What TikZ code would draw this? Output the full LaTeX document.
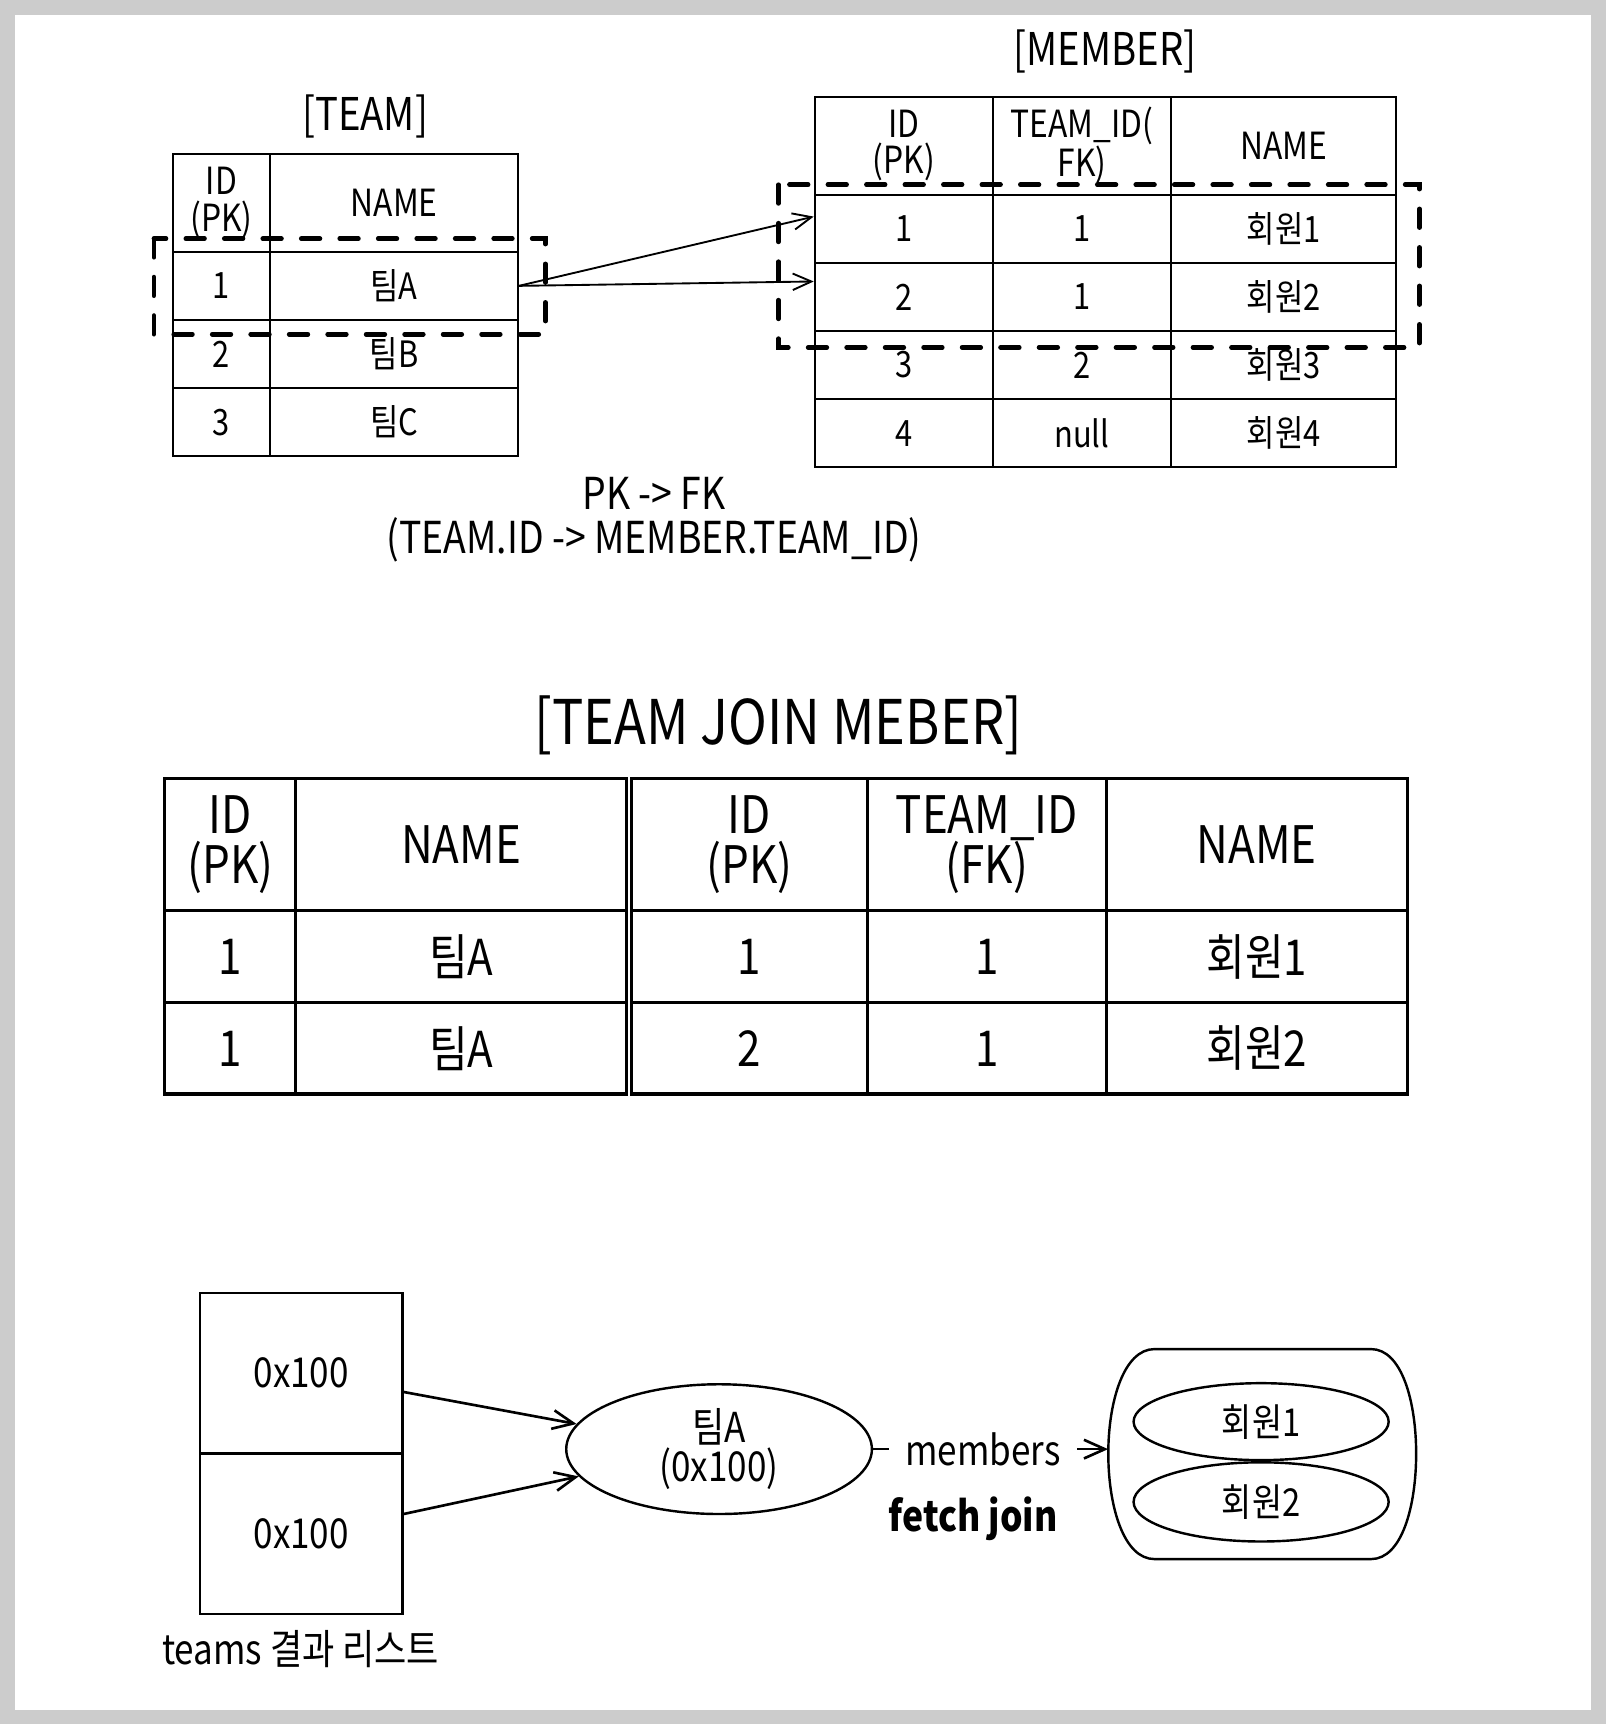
\documentclass[tikz,border=0pt]{standalone}
\usepackage{fontspec}
\setmainfont{Noto Sans CJK KR}[FakeStretch=0.85]
\usetikzlibrary{arrows.meta,shapes.geometric}
\definecolor{bgGray}{HTML}{CCCCCC}
\newcommand\myHead{\fontsize{34}{33}\selectfont}
\newcommand\myRow{\fontsize{33}{34}\selectfont}
\newcommand\myTitle{\fontsize{41}{44}\selectfont}
\newcommand\myNote{\fontsize{40}{40}\selectfont}
\newcommand\myBigTitle{\fontsize{56}{60}\selectfont}
\newcommand\myJoinHead{\fontsize{47}{46}\selectfont}
\newcommand\myJoin{\fontsize{45}{48}\selectfont}
\newcommand\myBot{\fontsize{37.5}{36}\selectfont}
\newcommand\myMem{\fontsize{35}{38}\selectfont}
\newcommand\myFetch{\bfseries\fontsize{38}{40}\selectfont}
\tikzset{
  tcell/.style 2 args={draw, line width=1.8pt, minimum width=#1, minimum height=#2, inner sep=0pt, align=center},
  hcell/.style 2 args={tcell={#1}{#2}, font=\myHead},
  rcell/.style 2 args={tcell={#1}{#2}, font=\myRow},
  jcell/.style 2 args={draw, line width=2.8pt, minimum width=#1, minimum height=#2, inner sep=0pt, align=center, font=\myJoin},
  jhcell/.style 2 args={jcell={#1}{#2}, font=\myJoinHead},
  dashbox/.style={line width=4.2pt, dash pattern=on 17pt off 18pt, line cap=round},
  arrA/.style={line width=1.7pt, -{Straight Barb[length=17pt, width=15pt]}},
  arrB/.style={line width=2.4pt, -{Straight Barb[length=19pt, width=17pt]}},
  bshape/.style={draw, line width=2.2pt},
  lbl/.style={inner sep=0pt, align=center}
}
\begin{document}
\begin{tikzpicture}[x=1pt,y=-1pt]
\useasboundingbox (0,0) rectangle (1460.7,1568);
\fill[bgGray] (0,0) rectangle (1460.7,1568);
\fill[white] (13.4,13.4) rectangle (1447.4,1554.8);

% ---------- TEAM table
\node[lbl, font=\myTitle] (teamTitle) at (332,106) {[TEAM]};
\node[hcell={89pt}{89pt}] (tH1) at (201.5,184.5) {ID\\(PK)};
\node[hcell={225pt}{89pt}] (tH2) at (358.5,184.5) {NAME};
\node[rcell={89pt}{62pt}] (t11) at (201.5,260) {1};
\node[rcell={225pt}{62pt}] (t12) at (358.5,260) {팀A};
\node[rcell={89pt}{62pt}] (t21) at (201.5,322) {2};
\node[rcell={225pt}{62pt}] (t22) at (358.5,322) {팀B};
\node[rcell={89pt}{62pt}] (t31) at (201.5,384) {3};
\node[rcell={225pt}{62pt}] (t32) at (358.5,384) {팀C};

% ---------- MEMBER table
\node[lbl, font=\myTitle] (memberTitle) at (1005,47) {[MEMBER]};
\node[hcell={162pt}{89pt}] (mH1) at (822,132.5) {ID\\(PK)};
\node[hcell={162pt}{89pt}] (mH2) at (984,132.5) {TEAM\_ID(\\FK)};
\node[hcell={205pt}{89pt}] (mH3) at (1167.5,132.5) {NAME};
\node[rcell={162pt}{62pt}] (m11) at (822,208) {1};
\node[rcell={162pt}{62pt}] (m12) at (984,208) {1};
\node[rcell={205pt}{62pt}] (m13) at (1167.5,208) {회원1};
\node[rcell={162pt}{62pt}] (m21) at (822,270) {2};
\node[rcell={162pt}{62pt}] (m22) at (984,270) {1};
\node[rcell={205pt}{62pt}] (m23) at (1167.5,270) {회원2};
\node[rcell={162pt}{62pt}] (m31) at (822,332) {3};
\node[rcell={162pt}{62pt}] (m32) at (984,332) {2};
\node[rcell={205pt}{62pt}] (m33) at (1167.5,332) {회원3};
\node[rcell={162pt}{62pt}] (m41) at (822,394) {4};
\node[rcell={162pt}{62pt}] (m42) at (984,394) {null};
\node[rcell={205pt}{62pt}] (m43) at (1167.5,394) {회원4};

% dashed selections
\draw[dashbox] (140,217) rectangle (496,304);
\draw[dashbox] (708,168) rectangle (1291,316);

% FK arrows
\draw[arrA] (t12.east) -- ([yshift=11pt]m11.west);
\draw[arrA] (t12.east) -- ([yshift=14pt]m21.west);

\node[lbl, font=\myNote] (note) at (595,472.5) {PK -> FK\\(TEAM.ID -> MEMBER.TEAM\_ID)};

% ---------- JOIN table
\node[lbl, font=\myBigTitle] (joinTitle) at (708,660) {[TEAM JOIN MEBER]};
\node[jhcell={119pt}{120pt}] (jH1) at (209.5,768) {ID\\(PK)};
\node[jhcell={301pt}{120pt}] (jH2) at (419.5,768) {NAME};
\node[jhcell={215pt}{120pt}] (jH3) at (681.5,768) {ID\\(PK)};
\node[jhcell={217pt}{120pt}] (jH4) at (897.5,768) {TEAM\_ID\\(FK)};
\node[jhcell={274pt}{120pt}] (jH5) at (1143,768) {NAME};
\node[jcell={119pt}{84pt}] (j11) at (209.5,870) {1};
\node[jcell={301pt}{84pt}] (j12) at (419.5,870) {팀A};
\node[jcell={215pt}{84pt}] (j13) at (681.5,870) {1};
\node[jcell={217pt}{84pt}] (j14) at (897.5,870) {1};
\node[jcell={274pt}{84pt}] (j15) at (1143,870) {회원1};
\node[jcell={119pt}{83pt}] (j21) at (209.5,953.5) {1};
\node[jcell={301pt}{83pt}] (j22) at (419.5,953.5) {팀A};
\node[jcell={215pt}{83pt}] (j23) at (681.5,953.5) {2};
\node[jcell={217pt}{83pt}] (j24) at (897.5,953.5) {1};
\node[jcell={274pt}{83pt}] (j25) at (1143,953.5) {회원2};

% ---------- bottom: result list and objects
\node[bshape, minimum width=184pt, minimum height=146pt, inner sep=0pt, font=\myBot] (l1) at (274,1249) {0x100};
\node[bshape, minimum width=184pt, minimum height=146pt, inner sep=0pt, font=\myBot] (l2) at (274,1395) {0x100};
\node[lbl, font=\myBot] (listLbl) at (273.5,1500) {teams 결과 리스트};

\node[bshape, ellipse, minimum width=278pt, minimum height=118pt, inner sep=0pt, align=center, font=\myBot] (tA) at (654,1318) {팀A\\(0x100)};

\draw[arrB] ([yshift=-17pt]l1.east) -- (tA.170);
\draw[arrB] ([yshift=18pt]l2.east) -- (tA.191);

% members collection
\node[minimum width=280pt, minimum height=191pt, inner sep=0pt] (cont) at (1148,1322.5) {};
\draw[line width=2.2pt] (1050,1227) -- (1247,1227)
  .. controls (1275,1227) and (1288,1275) .. (1288,1322)
  .. controls (1288,1370) and (1275,1418) .. (1247,1418)
  -- (1050,1418)
  .. controls (1022,1418) and (1008,1370) .. (1008,1322)
  .. controls (1008,1275) and (1022,1227) .. (1050,1227) -- cycle;
\node[bshape, ellipse, minimum width=232pt, minimum height=70pt, inner sep=0pt, font=\myMem] (mem1) at (1147,1293) {회원1};
\node[bshape, ellipse, minimum width=232pt, minimum height=72pt, inner sep=0pt, font=\myMem] (mem2) at (1147,1366) {회원2};

\draw[line width=2.4pt, -{Straight Barb[length=19pt, width=17pt]}] (tA.east) -- node[pos=0.467, fill=white, inner xsep=15pt, inner ysep=2pt, font=\myBot] (memLbl) {members} (tA.east -| cont.west);

\node[lbl, font=\myFetch] (fetch) at (885,1381) {fetch join};
\end{tikzpicture}
\end{document}
